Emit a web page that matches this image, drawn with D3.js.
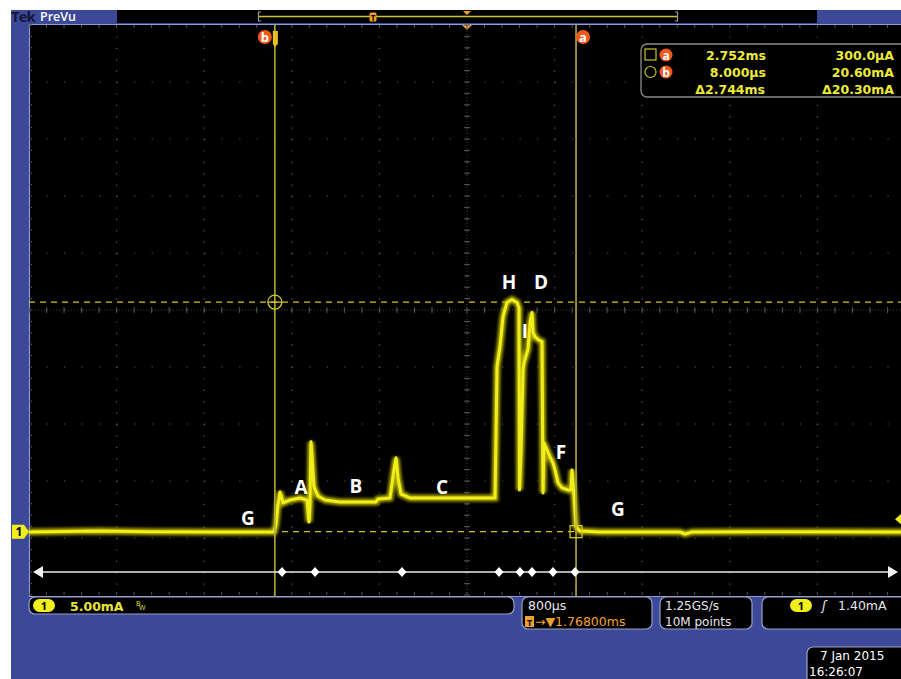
<!DOCTYPE html>
<html><head><meta charset="utf-8">
<script src="https://cdn.jsdelivr.net/npm/d3@7"></script>
<style>body{margin:0;background:#fff}svg{display:block}</style>
</head><body>
<script>
// ---- data (time in ms, current in mA) ----
const traceTimeMs = [-2.232,-1.6,-1.13,-0.5,0,0.018,0.036,0.055,0.082,0.146,0.237,0.301,0.319,0.328,0.337,0.346,0.364,0.401,0.465,0.601,0.929,0.948,1.057,1.093,1.112,1.130,1.157,1.239,1.604,2.014,2.032,2.059,2.087,2.123,2.169,2.214,2.232,2.237,2.251,2.269,2.278,2.305,2.314,2.333,2.351,2.360,2.378,2.405,2.442,2.451,2.460,2.487,2.515,2.542,2.560,2.588,2.624,2.679,2.706,2.715,2.733,2.752,2.788,2.970,3.699,3.745,3.809,4.6,5.749];
const traceCurrentMa = [0.27,0.35,0.30,0.27,0.27,0.89,2.66,3.81,2.84,3.10,3.28,3.10,1.15,2.66,8.24,7.09,4.26,3.46,3.10,2.93,2.93,3.19,3.28,5.76,6.83,5.05,3.63,3.28,3.28,3.28,14.89,16.67,19.33,20.57,20.83,20.57,20.12,3.99,7.54,14.63,15.25,16.13,16.40,18.79,19.68,17.91,17.55,17.29,17.11,3.72,8.16,7.54,6.91,6.38,5.76,4.61,4.17,3.99,3.99,5.76,3.55,0.71,0.35,0.27,0.27,0.09,0.27,0.30,0.27];
const labelText = ["G","A","B","C","H","D","I","F","G"];
const labelTimeMs = [-0.237,0.246,0.747,1.531,2.141,2.433,2.287,2.615,3.134];
const labelCurrentMa = [1.5,4.25,4.34,4.25,22.4,22.4,18.05,7.35,2.3];
const markerTimeMs = [0.073,0.374,1.166,2.050,2.241,2.351,2.542,2.743];
const cursorTimeMs = {a:2.752, b:0.008};
const cursorCurrentMa = {a:0.3, b:20.6};
const triggerLevelMa = 1.40;
const readoutRows = [["2.752ms","300.0µA"],["8.000µs","20.60mA"],["Δ2.744ms","Δ20.30mA"]];

const W=901,H=679;
const gL=29,gR=905,gT=25,gB=595;
const x=d3.scaleLinear().domain([-2.232,5.749]).range([gL,gR]);
const y=d3.scaleLinear().domain([-5.3,45.1]).range([gB,gT]);
const svg=d3.select("body").append("svg").attr("width",W).attr("height",H);
const blue="#3c4898", yel="#f2ee1c", cur="#b0ac3c", dash="#cfc81e", org="#f0581e";
const font="'Open Sans', 'DejaVu Sans', sans-serif";
const ui="'DejaVu Sans', sans-serif";

svg.append("rect").attr("width",W).attr("height",H).attr("fill","#fff");
svg.append("rect").attr("x",11).attr("y",10).attr("width",W-11).attr("height",H-10).attr("fill",blue);
svg.append("rect").attr("x",117).attr("y",10).attr("width",700).attr("height",13).attr("fill","#000");
svg.append("rect").attr("x",gL).attr("y",gT-1).attr("width",W-gL).attr("height",gB-gT+2).attr("fill","#000");
svg.append("path").attr("d",`M${gL+0.5},${gB+1}V${gT-0.5}H${W}M${gL},${gB+1.5}H${W}`).attr("stroke","#8f9bd2").attr("fill","none").attr("stroke-width",1.2);

// top bar
svg.append("text").attr("x",11).attr("y",22).attr("font-family",font).attr("font-weight",700).attr("font-size",15).attr("fill","#15163a").attr("letter-spacing",-1).text("Tek");
svg.append("text").attr("x",40).attr("y",21).attr("font-family",font).attr("font-weight",600).attr("font-size",12.5).attr("fill","#fff").text("PreVu");
svg.append("line").attr("x1",259).attr("x2",677).attr("y1",16.5).attr("y2",16.5).attr("stroke","#c9c52a").attr("stroke-width",1.4);
svg.append("path").attr("d","M261,12H258.5V21H261M675,12H677.5V21H675").attr("stroke","#999").attr("fill","none").attr("stroke-width",1.2);
svg.append("rect").attr("x",369.5).attr("y",12.5).attr("width",7).attr("height",9).attr("rx",1.5).attr("fill","#f2a02a");
svg.append("text").attr("x",373).attr("y",20.5).attr("text-anchor","middle").attr("font-family",font).attr("font-weight",700).attr("font-size",8).attr("fill","#000").text("T");
svg.append("path").attr("d","M463,11H471L467,15Z").attr("fill","#f2a02a");
svg.append("path").attr("d","M462,25H472L467,30Z").attr("fill","#f2a02a");

// grid
const g=svg.append("g");
const divW=(gR-gL)/10, divH=(gB-gT)/10;
for(let i=1;i<10;i++){
  const xx=gL+i*divW;
  g.append("line").attr("x1",xx).attr("x2",xx).attr("y1",gT+divH/5).attr("y2",gB).attr("stroke","#5a5a5a").attr("stroke-width",1.2).attr("stroke-dasharray",`1.2,${divH/5-1.2}`);
}
for(let j=1;j<10;j++){
  const yy=gT+j*divH;
  g.append("line").attr("x1",gL+divW/5).attr("x2",W).attr("y1",yy).attr("y2",yy).attr("stroke","#5a5a5a").attr("stroke-width",1.2).attr("stroke-dasharray",`1.2,${divW/5-1.2}`);
}
const cx=gL+5*divW, cy=gT+5*divH;
g.append("line").attr("x1",cx).attr("x2",cx).attr("y1",gT).attr("y2",gB).attr("stroke","#3a3a3a").attr("stroke-dasharray","1,2");
g.append("line").attr("x1",gL).attr("x2",W).attr("y1",cy).attr("y2",cy).attr("stroke","#3a3a3a").attr("stroke-dasharray","1,2");
for(let k=0;k<=50;k++){
  const yy=gT+k*divH/5;
  g.append("line").attr("x1",cx-3).attr("x2",cx+3).attr("y1",yy).attr("y2",yy).attr("stroke","#555");
  g.append("line").attr("x1",gL).attr("x2",gL+3).attr("y1",yy).attr("y2",yy).attr("stroke","#555");
}
for(let k=0;k<=50;k++){
  const xx=gL+k*divW/5;
  g.append("line").attr("x1",xx).attr("x2",xx).attr("y1",cy-3).attr("y2",cy+3).attr("stroke","#555");
  g.append("line").attr("x1",xx).attr("x2",xx).attr("y1",gT).attr("y2",gT+3).attr("stroke","#555");
  g.append("line").attr("x1",xx).attr("x2",xx).attr("y1",gB-3).attr("y2",gB).attr("stroke","#555");
}

// cursors (horizontal)
const xa=x(cursorTimeMs.a), xb=x(cursorTimeMs.b), ya=y(cursorCurrentMa.a), yb=y(cursorCurrentMa.b);
svg.append("line").attr("x1",gL).attr("x2",W).attr("y1",yb).attr("y2",yb).attr("stroke",dash).attr("stroke-width",1.3).attr("stroke-dasharray","6,5");
svg.append("line").attr("x1",gL).attr("x2",W).attr("y1",ya).attr("y2",ya).attr("stroke",dash).attr("stroke-width",1.3).attr("stroke-dasharray","6,5");

// trace
const pts=traceTimeMs.map((t,i)=>[x(t),y(traceCurrentMa[i])]);
const line=d3.line();
const defs=svg.append("defs");
defs.append("filter").attr("id","blur").append("feGaussianBlur").attr("stdDeviation",1.8);
svg.append("path").attr("d",line(pts)).attr("fill","none").attr("stroke","#c8c400").attr("stroke-width",7).attr("opacity",0.85).attr("filter","url(#blur)");
svg.append("path").attr("d",line(pts)).attr("fill","none").attr("stroke",yel).attr("stroke-width",3).attr("stroke-linejoin","round");

// cursors (vertical)
svg.append("line").attr("x1",xb).attr("x2",xb).attr("y1",gT).attr("y2",gB+1).attr("stroke",cur).attr("stroke-width",1.6);
svg.append("line").attr("x1",xa).attr("x2",xa).attr("y1",gT).attr("y2",gB+1).attr("stroke",cur).attr("stroke-width",1.6);
svg.append("circle").attr("cx",xb).attr("cy",yb).attr("r",7).attr("fill","none").attr("stroke",dash).attr("stroke-width",1.3);
svg.append("line").attr("x1",xb-7).attr("x2",xb+7).attr("y1",yb).attr("y2",yb).attr("stroke",dash).attr("stroke-width",1.3);
svg.append("rect").attr("x",xa-6).attr("y",ya-6).attr("width",12).attr("height",12).attr("fill","none").attr("stroke",dash).attr("stroke-width",1.3);

// cursor top markers
[["b",xb-10],["a",xa+7]].forEach(([l,px])=>{
  svg.append("circle").attr("cx",px).attr("cy",37).attr("r",7).attr("fill",org);
  svg.append("text").attr("x",px).attr("y",41.5).attr("text-anchor","middle").attr("font-family",font).attr("font-weight",700).attr("font-size",13).attr("fill","#fff").text(l);
});
svg.append("path").attr("d",`M${xb-2},31H${xb+3}V44L${xb},47L${xb-2},44Z`).attr("fill","#e8c020");

// labels
labelText.forEach((s,i)=>{
  svg.append("text").attr("x",x(labelTimeMs[i])).attr("y",y(labelCurrentMa[i])).attr("dy","0.36em").attr("text-anchor","middle").attr("font-family",font).attr("font-weight",700).attr("font-size",19).attr("fill","#fff").text(s);
});

// time marker row
const ym=572;
svg.append("line").attr("x1",38).attr("x2",893).attr("y1",ym).attr("y2",ym).attr("stroke","#e8e8e8").attr("stroke-width",1.5);
svg.append("path").attr("d",`M33,${ym}L43,${ym-6}V${ym+6}Z M898,${ym}L888,${ym-6}V${ym+6}Z`).attr("fill","#f2f2f2");
markerTimeMs.forEach(t=>{
  const px=x(t);
  svg.append("path").attr("d",`M${px},${ym-5}L${px+4.5},${ym}L${px},${ym+5}L${px-4.5},${ym}Z`).attr("fill","#fff");
});

// ground & trigger level markers
const yg=y(0.3);
svg.append("path").attr("d",`M12,${yg-7}H24L29,${yg}L24,${yg+7}H12Z`).attr("fill",yel);
svg.append("text").attr("x",19).attr("y",yg+4.5).attr("text-anchor","middle").attr("font-family",font).attr("font-weight",700).attr("font-size",12).attr("fill","#000").text("1");
const yt=y(triggerLevelMa);
svg.append("path").attr("d",`M895,${yt}L902,${yt-6}V${yt+6}Z`).attr("fill",yel);

// readout box
svg.append("rect").attr("x",641).attr("y",44).attr("width",270).attr("height",53).attr("rx",6).attr("fill","#000").attr("stroke","#8a8a8a").attr("stroke-width",1.3);
svg.append("rect").attr("x",645).attr("y",49).attr("width",11).attr("height",11).attr("fill","none").attr("stroke","#c9c52a").attr("stroke-width",1.2);
svg.append("circle").attr("cx",650.5).attr("cy",72).attr("r",5.5).attr("fill","none").attr("stroke","#c9c52a").attr("stroke-width",1.2);
[["a",55],["b",72]].forEach(([l,py])=>{
  svg.append("circle").attr("cx",666).attr("cy",py).attr("r",6.5).attr("fill",org);
  svg.append("text").attr("x",666).attr("y",py+4.5).attr("text-anchor","middle").attr("font-family",font).attr("font-weight",700).attr("font-size",12).attr("fill","#fff").text(l);
});
readoutRows.forEach((r,i)=>{
  const py=60+i*17;
  svg.append("text").attr("x",i==2?765:766).attr("text-anchor","end").attr("y",py).attr("font-family",ui).attr("font-weight",700).attr("font-size",12.5).attr("fill","#ecea3a").text(r[0]);
  svg.append("text").attr("x",894).attr("y",py).attr("text-anchor","end").attr("font-family",ui).attr("font-weight",700).attr("font-size",12.5).attr("fill","#ecea3a").text(r[1]);
});

// bottom status bar
const box=(x0,y0,w,h)=>svg.append("rect").attr("x",x0).attr("y",y0).attr("width",w).attr("height",h).attr("rx",6).attr("fill","#000").attr("stroke","#9aa0c8").attr("stroke-width",1.2);
box(29,597,485,17);
svg.append("rect").attr("x",33).attr("y",599).attr("width",22).attr("height",13).attr("rx",6.5).attr("fill",yel);
svg.append("text").attr("x",44).attr("y",610).attr("text-anchor","middle").attr("font-family",font).attr("font-weight",700).attr("font-size",11).attr("fill","#000").text("1");
svg.append("text").attr("x",70).attr("y",611).attr("font-family",ui).attr("font-weight",700).attr("font-size",12.5).attr("fill","#e8e43a").text("5.00mA");
svg.append("text").attr("x",136).attr("y",606).attr("font-family",font).attr("font-size",7).attr("fill","#e8e43a").text("B");
svg.append("text").attr("x",139).attr("y",610).attr("font-family",font).attr("font-size",7).attr("fill","#e8e43a").text("W");
box(522,597,130,32);
svg.append("text").attr("x",528).attr("y",610).attr("font-family",ui).attr("font-size",12.5).attr("fill","#e6e6ee").text("800µs");
svg.append("rect").attr("x",525).attr("y",616).attr("width",9).attr("height",11).attr("fill","#f0a030");
svg.append("text").attr("x",529.5).attr("y",625.5).attr("text-anchor","middle").attr("font-family",font).attr("font-weight",700).attr("font-size",9).attr("fill","#000").text("T");
svg.append("text").attr("x",535).attr("y",626).attr("font-family",ui).attr("font-size",12.5).attr("fill","#f0a030").text("→▼1.76800ms");
box(660,597,92,32);
svg.append("text").attr("x",665).attr("y",610).attr("font-family",ui).attr("font-size",12).attr("fill","#e6e6ee").text("1.25GS/s");
svg.append("text").attr("x",665).attr("y",626).attr("font-family",ui).attr("font-size",12).attr("fill","#e6e6ee").text("10M points");
box(762,597,150,32);
svg.append("rect").attr("x",790).attr("y",599).attr("width",22).attr("height",13).attr("rx",6.5).attr("fill",yel);
svg.append("text").attr("x",801).attr("y",610).attr("text-anchor","middle").attr("font-family",font).attr("font-weight",700).attr("font-size",11).attr("fill","#000").text("1");
svg.append("text").attr("x",822).attr("y",610).attr("font-family",ui).attr("font-style","italic").attr("font-size",12.5).attr("fill","#e6e6ee").text("ʃ");
svg.append("text").attr("x",838).attr("y",610).attr("font-family",ui).attr("font-size",12.5).attr("fill","#e6e6ee").text("1.40mA");

// date box
box(807,647,110,40);
svg.append("text").attr("x",820).attr("y",660).attr("font-family",ui).attr("font-size",12).attr("fill","#fff").text("7 Jan  2015");
svg.append("text").attr("x",809).attr("y",676).attr("font-family",ui).attr("font-size",12).attr("fill","#fff").text("16:26:07");
</script>
</body></html>
